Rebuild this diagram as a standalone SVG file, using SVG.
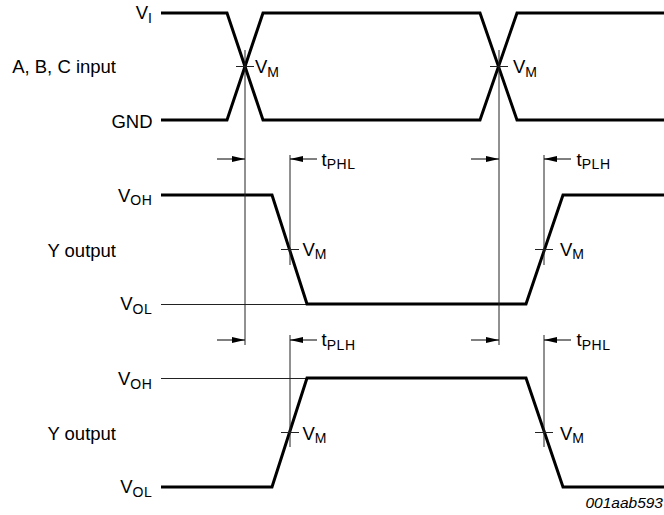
<svg xmlns="http://www.w3.org/2000/svg" width="664" height="515" viewBox="0 0 664 515">
<defs>
<style>
.wave{fill:none;stroke:#000;stroke-width:3;stroke-linejoin:miter;stroke-miterlimit:10}
.thin{fill:none;stroke:#222;stroke-width:1}
.arr{fill:none;stroke:#000;stroke-width:1;marker-end:url(#ah)}
text{font-family:"Liberation Sans",Arial,sans-serif;font-size:18.5px;fill:#000}
.sub{font-size:14px;letter-spacing:0.6px}
.end{text-anchor:end}
.id{font-size:15.5px;font-style:italic;text-anchor:end}
</style>
<marker id="ah" viewBox="0 0 13 6" refX="13" refY="3" markerWidth="13" markerHeight="6" markerUnits="userSpaceOnUse" orient="auto">
<path d="M0,0 L13,3 L0,6 z" fill="#000"/>
</marker>
</defs>
<rect width="664" height="515" fill="#fff"/>

<g id="input-wave">
<path class="wave" d="M161,13 L227,13 L263,120 L480,120 L517,13 L664,13"/>
<path class="wave" d="M161,120 L227,120 L263,13 L480,13 L517,120 L664,120"/>
</g>

<g id="output1-wave">
<path class="thin" d="M161,304.5 L307,304.5"/>
<path class="wave" d="M161,195 L272,195 L307,304 L526,304 L563,195 L664,195"/>
</g>

<g id="output2-wave">
<path class="thin" d="M161,378.5 L307,378.5"/>
<path class="wave" d="M161,487 L272,487 L307,378 L526,378 L563,487 L664,487"/>
</g>

<g id="connectors">
<path class="thin" d="M245,50 V345 M499,50 V345"/>
<path class="thin" d="M290,155 V265 M544,155 V265 M290,335 V447 M544,335 V447"/>
<path class="thin" d="M236,66.5 H254 M490,66.5 H508 M281,249.5 H299 M535,249.5 H553 M281,432.5 H299 M535,432.5 H553"/>
<path class="arr" d="M217,159 H245"/>
<path class="arr" d="M317,159 H290"/>
<path class="arr" d="M471,159 H499"/>
<path class="arr" d="M571,159 H544"/>
<path class="arr" d="M217,340 H245"/>
<path class="arr" d="M317,340 H290"/>
<path class="arr" d="M471,340 H499"/>
<path class="arr" d="M571,340 H544"/>
</g>

<g id="labels">
<text class="end" x="152.5" y="19">V<tspan class="sub" dy="3.5">I</tspan></text>
<text class="end" x="152.5" y="127.5">GND</text>
<text class="end" x="116" y="72.5">A, B, C input</text>
<text class="end" x="152.5" y="201.5">V<tspan class="sub" dy="3.5">OH</tspan></text>
<text class="end" x="116" y="256.5">Y output</text>
<text class="end" x="152.5" y="310">V<tspan class="sub" dy="3.5">OL</tspan></text>
<text class="end" x="152.5" y="385">V<tspan class="sub" dy="3.5">OH</tspan></text>
<text class="end" x="116" y="440">Y output</text>
<text class="end" x="152.5" y="493">V<tspan class="sub" dy="3.5">OL</tspan></text>

<text x="255" y="73">V<tspan class="sub" dy="3.5">M</tspan></text>
<text x="513" y="73">V<tspan class="sub" dy="3.5">M</tspan></text>
<text x="302.5" y="255.5">V<tspan class="sub" dy="3.5">M</tspan></text>
<text x="560" y="255.5">V<tspan class="sub" dy="3.5">M</tspan></text>
<text x="302.5" y="439.5">V<tspan class="sub" dy="3.5">M</tspan></text>
<text x="560" y="439.5">V<tspan class="sub" dy="3.5">M</tspan></text>

<text x="321.5" y="165.5">t<tspan class="sub" dy="3.5">PHL</tspan></text>
<text x="576.5" y="165.5">t<tspan class="sub" dy="3.5">PLH</tspan></text>
<text x="321.5" y="346">t<tspan class="sub" dy="3.5">PLH</tspan></text>
<text x="576.5" y="346">t<tspan class="sub" dy="3.5">PHL</tspan></text>

<text class="id" x="663" y="508">001aab593</text>
</g>
</svg>
